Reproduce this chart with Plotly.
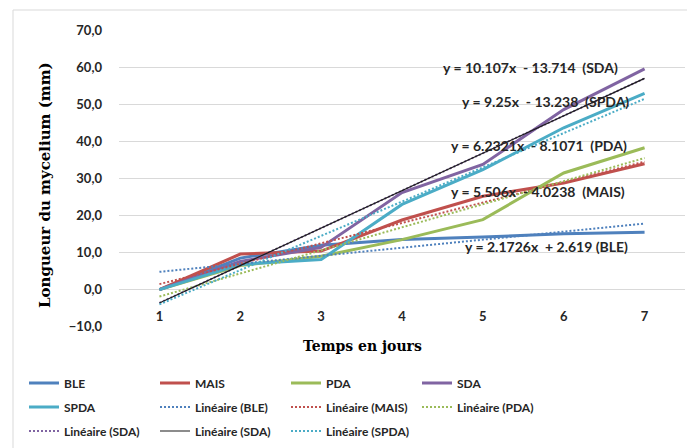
import plotly.graph_objects as go

days = [1, 2, 3, 4, 5, 6, 7]
ble = [0.0, 8.5, 12.0, 13.5, 14.2, 15.1, 15.5]
mais = [0.0, 9.6, 10.4, 18.8, 25.2, 28.8, 34.0]
pda = [0.0, 6.5, 9.0, 13.5, 18.9, 31.5, 38.3]
sda = [0.0, 7.6, 11.4, 26.2, 33.8, 48.6, 59.6]
spda = [0.0, 6.8, 8.1, 23.0, 32.4, 43.7, 53.0]

series_names = ["BLE", "MAIS", "PDA", "SDA", "SPDA"]
series_values = [ble, mais, pda, sda, spda]
colors = ["#4F81BD", "#C0504D", "#9BBB59", "#8064A2", "#4BACC6"]

# trend line coefficients (slope, intercept) shown on the chart
slopes = [2.1726, 5.506, 6.2321, 10.107, 9.25]
intercepts = [2.619, -4.0238, -8.1071, -13.714, -13.238]
eq_labels = [
    "y = 2.1726x  + 2.619 (BLE)",
    "y = 5.506x  - 4.0238  (MAIS)",
    "y = 6.2321x  - 8.1071  (PDA)",
    "y = 10.107x  - 13.714  (SDA)",
    "y = 9.25x  - 13.238  (SPDA)",
]

yticks = [-10, 0, 10, 20, 30, 40, 50, 60, 70]

# page body has an 8px margin; figure sized so it fits the window
OFF = 8
W, H = 695 - OFF, 448 - OFF
L, R, T, B = 111, 10, 22, 121
PW, PH = W - L - R, H - T - B

def px(xp):
    return (xp - OFF - L) / PW

def py(yp):
    return (H - B - (yp - OFF)) / PH

eq_pos = [(546, 246), (538, 191), (539, 145), (530, 68), (545, 101)]

FONT = "Lato"
DOT = "2px,2px"
legend_rows = ["legend", "legend", "legend", "legend",
               "legend2", "legend2", "legend2", "legend2",
               "legend3", "legend3", "legend3"]
fig = go.Figure()
k = 0
for n, v, c in zip(series_names, series_values, colors):
    fig.add_trace(go.Scatter(x=days, y=v, mode="lines", name=n, legend=legend_rows[k],
                             line=dict(color=c, width=3)))
    k += 1

def trend(i):
    xs = [days[0], days[-1]]
    return xs, [slopes[i] * x + intercepts[i] for x in xs]

for i, n in enumerate(series_names):
    xs, ys = trend(i)
    fig.add_trace(go.Scatter(x=xs, y=ys, mode="lines", name=f"Linéaire ({n})",
                             legend=legend_rows[k],
                             line=dict(color=colors[i], width=2, dash=DOT)))
    k += 1
    if n == "SDA":
        fig.add_trace(go.Scatter(x=xs, y=ys, mode="lines", name="Linéaire (SDA)",
                                 legend=legend_rows[k],
                                 line=dict(color="#1A1A1A", width=1.2)))
        k += 1

for (ex, ey), t in zip(eq_pos, eq_labels):
    fig.add_annotation(x=px(ex), y=py(ey), xref="paper", yref="paper",
                       text=t, showarrow=False, xanchor="center", yanchor="middle",
                       font=dict(family=FONT, size=14, color="#262626", weight="bold"))

fig.add_annotation(x=px(362), y=py(346), xref="paper", yref="paper",
                   text="Temps en jours", showarrow=False, yanchor="middle",
                   font=dict(family="DejaVu Serif", size=14, color="#000000", weight="bold"))

fig.add_annotation(x=px(45), y=py(185), xref="paper", yref="paper",
                   text="Longueur du mycelium (mm)", showarrow=False, textangle=-90,
                   xanchor="center", yanchor="middle",
                   font=dict(family="DejaVu Serif", size=15, color="#000000", weight="bold"))

# outer chart border
fig.add_shape(type="rect", xref="paper", yref="paper",
              x0=px(13), x1=px(720), y0=py(470), y1=py(10),
              line=dict(color="#D9D9D9", width=1), layer="below")

leg_common = dict(orientation="h", xref="container", yref="container",
                  xanchor="left", yanchor="middle",
                  entrywidth=86, entrywidthmode="pixels",
                  font=dict(family=FONT, size=12, color="#262626", weight="bold"),
                  bgcolor="rgba(0,0,0,0)")

fig.update_layout(
    width=W, height=H,
    margin=dict(l=L, r=R, t=T, b=B, autoexpand=False),
    paper_bgcolor="white", plot_bgcolor="white",
    separators=", ",
    showlegend=True,
    legend=dict(leg_common, x=16 / W, y=1 - (383 - OFF) / H),
    legend2=dict(leg_common, x=16 / W, y=1 - (407 - OFF) / H),
    legend3=dict(leg_common, x=16 / W, y=1 - (431 - OFF) / H),
    xaxis=dict(range=[0.5, 7.5], tickvals=days, ticktext=[str(d) for d in days],
               showgrid=False, zeroline=False, showline=False, ticks="",
               ticklabelstandoff=-20,
               tickfont=dict(family=FONT, size=13, color="#262626", weight="bold")),
    yaxis=dict(range=[-10.1, 70.1], tickvals=yticks, tickformat=".1f",
               showgrid=True, gridcolor="#D9D9D9", gridwidth=1, zeroline=False,
               showline=False, ticks="", ticklabelstandoff=16,
               tickfont=dict(family=FONT, size=13, color="#262626", weight="bold")),
)

fig.write_html("out.html")
